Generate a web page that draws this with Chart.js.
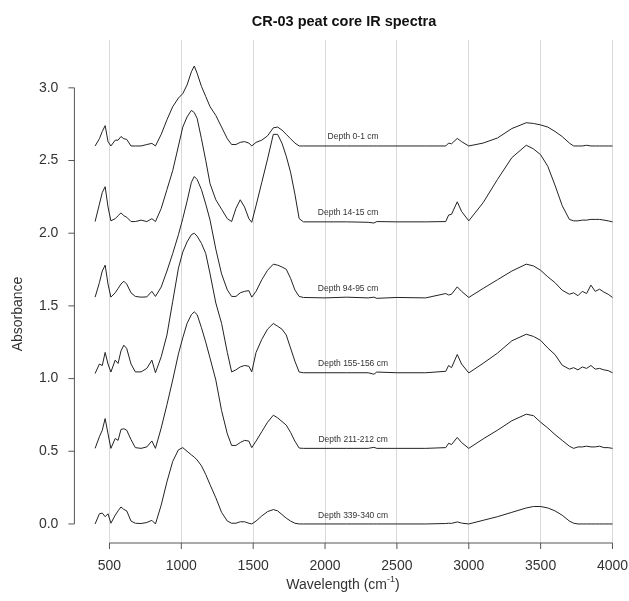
<!DOCTYPE html>
<html>
<head>
<meta charset="utf-8">
<script src="https://cdn.jsdelivr.net/npm/chart.js@4.4.1/dist/chart.umd.min.js"></script>
<style>
html,body{margin:0;padding:0;background:#fff}
#wrap{width:629px;height:601px}
</style>
</head>
<body>
<div id="wrap"><canvas id="irChart" width="629" height="601"></canvas></div>
<script>
// wavenumber grid (cm-1), shared by all spectra
const wavenumbers = [400,430,450,470,490,510,540,560,580,600,620,650,680,720,760,795,820,860,900,940,980,1010,1040,1070,1090,1110,1140,1170,1200,1240,1280,1320,1350,1380,1410,1440,1470,1490,1520,1560,1600,1640,1670,1700,1730,1760,1790,1820,1850,2000,2150,2300,2340,2360,2500,2700,2840,2860,2880,2920,2950,3000,3100,3200,3300,3400,3450,3500,3550,3600,3650,3700,3730,3760,3790,3820,3850,3880,3910,3940,3970,4000];

// absorbance (stacked as plotted)
const depth0_1 = [2.60,2.65,2.70,2.74,2.63,2.60,2.64,2.64,2.665,2.65,2.645,2.60,2.60,2.60,2.61,2.618,2.60,2.68,2.78,2.87,2.93,2.96,3.02,3.11,3.15,3.10,3.01,2.94,2.87,2.81,2.73,2.65,2.61,2.61,2.625,2.63,2.62,2.60,2.625,2.64,2.67,2.725,2.73,2.71,2.68,2.65,2.62,2.60,2.60,2.60,2.60,2.60,2.60,2.60,2.60,2.60,2.60,2.62,2.615,2.652,2.63,2.60,2.62,2.655,2.72,2.76,2.755,2.745,2.73,2.70,2.665,2.62,2.60,2.60,2.60,2.605,2.60,2.60,2.60,2.60,2.60,2.60];
const depth14_15 = [2.08,2.20,2.28,2.32,2.18,2.085,2.10,2.12,2.14,2.12,2.11,2.08,2.08,2.09,2.08,2.10,2.08,2.17,2.30,2.43,2.60,2.73,2.80,2.845,2.83,2.79,2.65,2.50,2.34,2.23,2.165,2.10,2.08,2.17,2.23,2.18,2.10,2.075,2.19,2.35,2.51,2.68,2.68,2.62,2.53,2.42,2.27,2.10,2.078,2.078,2.078,2.075,2.07,2.08,2.078,2.078,2.08,2.125,2.13,2.216,2.15,2.085,2.21,2.37,2.52,2.605,2.58,2.54,2.46,2.33,2.19,2.095,2.085,2.085,2.09,2.09,2.095,2.095,2.095,2.09,2.085,2.078];
const depth94_95 = [1.56,1.66,1.74,1.78,1.65,1.56,1.59,1.62,1.65,1.67,1.65,1.59,1.565,1.56,1.562,1.60,1.565,1.63,1.74,1.86,1.99,2.10,2.22,2.35,2.39,2.37,2.30,2.20,2.09,1.89,1.72,1.61,1.565,1.565,1.59,1.60,1.605,1.56,1.60,1.68,1.745,1.787,1.78,1.768,1.752,1.69,1.61,1.565,1.558,1.555,1.56,1.555,1.56,1.552,1.558,1.555,1.585,1.575,1.58,1.631,1.60,1.558,1.62,1.68,1.74,1.787,1.775,1.745,1.70,1.66,1.608,1.58,1.59,1.57,1.60,1.585,1.643,1.60,1.615,1.595,1.58,1.558];
const depth155_156 = [1.035,1.10,1.09,1.18,1.10,1.045,1.127,1.104,1.19,1.23,1.207,1.10,1.046,1.046,1.07,1.127,1.04,1.15,1.30,1.53,1.76,1.87,1.94,1.99,2.00,1.98,1.93,1.86,1.72,1.52,1.38,1.18,1.046,1.06,1.08,1.09,1.085,1.046,1.18,1.27,1.34,1.379,1.36,1.34,1.30,1.21,1.12,1.045,1.04,1.04,1.04,1.04,1.03,1.045,1.04,1.04,1.05,1.09,1.075,1.166,1.10,1.039,1.105,1.175,1.26,1.305,1.29,1.263,1.21,1.165,1.092,1.065,1.075,1.06,1.08,1.07,1.09,1.065,1.07,1.06,1.055,1.04];
const depth211_212 = [0.52,0.60,0.645,0.725,0.62,0.52,0.588,0.575,0.65,0.655,0.645,0.58,0.525,0.52,0.53,0.571,0.52,0.66,0.82,0.99,1.17,1.28,1.38,1.44,1.459,1.44,1.35,1.25,1.14,0.99,0.78,0.62,0.54,0.54,0.56,0.575,0.57,0.525,0.57,0.635,0.70,0.748,0.73,0.705,0.68,0.63,0.57,0.522,0.52,0.52,0.52,0.52,0.527,0.52,0.52,0.52,0.525,0.555,0.546,0.595,0.56,0.52,0.585,0.645,0.71,0.755,0.745,0.70,0.66,0.615,0.575,0.535,0.52,0.53,0.53,0.535,0.53,0.53,0.535,0.525,0.525,0.52];
const depth339_340 = [0.0,0.07,0.075,0.05,0.07,0.005,0.06,0.09,0.117,0.10,0.09,0.02,0.005,0.003,0.01,0.025,0.0,0.13,0.29,0.43,0.51,0.525,0.50,0.475,0.46,0.44,0.40,0.34,0.27,0.18,0.08,0.02,0.005,0.005,0.015,0.015,0.005,0.0,0.02,0.055,0.085,0.099,0.09,0.065,0.04,0.02,0.005,0.0,0.0,0.0,0.0,0.0,0.0,0.0,0.0,0.0,0.003,0.005,0.004,0.014,0.006,0.0,0.025,0.05,0.08,0.11,0.12,0.12,0.11,0.09,0.06,0.02,0.005,0.0,0.0,0.0,0.0,0.0,0.0,0.0,0.0,0.0];

const spectra = [depth0_1, depth14_15, depth94_95, depth155_156, depth211_212, depth339_340];
const spectraNames = ["Depth 0-1 cm","Depth 14-15 cm","Depth 94-95 cm","Depth 155-156 cm","Depth 211-212 cm","Depth 339-340 cm"];
const labelWn = [2195,2160,2160,2195,2195,2195];
const labelAbs = [2.663,2.14,1.62,1.104,0.583,0.06];

const xTicks = [500,1000,1500,2000,2500,3000,3500,4000];
const yTicks = [0,0.5,1,1.5,2,2.5,3];

const FONT = '"Liberation Sans", Arial, sans-serif';

const axesPlugin = {
  id: "rAxes",
  afterDraw(chart){
    const ctx = chart.ctx, xs = chart.scales.x, ys = chart.scales.y, a = chart.chartArea;
    ctx.save();
    ctx.strokeStyle = "#555";
    ctx.lineWidth = 1;
    ctx.beginPath();
    // y axis
    ctx.moveTo(a.left, ys.getPixelForValue(yTicks[0]));
    ctx.lineTo(a.left, ys.getPixelForValue(yTicks[yTicks.length-1]));
    yTicks.forEach(v=>{
      const p = ys.getPixelForValue(v);
      ctx.moveTo(a.left, p); ctx.lineTo(a.left-6, p);
    });
    // x axis
    ctx.moveTo(xs.getPixelForValue(xTicks[0]), a.bottom);
    ctx.lineTo(xs.getPixelForValue(xTicks[xTicks.length-1]), a.bottom);
    xTicks.forEach(v=>{
      const p = xs.getPixelForValue(v);
      ctx.moveTo(p, a.bottom); ctx.lineTo(p, a.bottom+6);
    });
    ctx.stroke();

    ctx.fillStyle = "#333";
    ctx.font = "14px " + FONT;
    ctx.textAlign = "right"; ctx.textBaseline = "middle";
    yTicks.forEach(v=> ctx.fillText(v.toFixed(1), a.left-16, ys.getPixelForValue(v)));
    ctx.textAlign = "center";
    xTicks.forEach(v=> ctx.fillText(String(v), xs.getPixelForValue(v), a.bottom+23));

    // axis titles
    const main = "Wavelength (cm", sup = "-1", tail = ")";
    ctx.font = "14px " + FONT;
    const w1 = ctx.measureText(main).width, w3 = ctx.measureText(tail).width;
    ctx.font = "9px " + FONT;
    const w2 = ctx.measureText(sup).width;
    let x0 = 343 - (w1+w2+w3)/2;
    ctx.textAlign = "left";
    ctx.font = "14px " + FONT;
    ctx.fillText(main, x0, a.bottom+42);
    ctx.font = "9px " + FONT;
    ctx.fillText(sup, x0+w1, a.bottom+37);
    ctx.font = "14px " + FONT;
    ctx.fillText(tail, x0+w1+w2, a.bottom+42);

    ctx.save();
    ctx.translate(18, 314);
    ctx.rotate(-Math.PI/2);
    ctx.textAlign = "center";
    ctx.fillText("Absorbance", 0, 0);
    ctx.restore();

    // title
    ctx.font = "bold 14.5px " + FONT;
    ctx.fillStyle = "#111";
    ctx.textAlign = "center";
    ctx.fillText("CR-03 peat core IR spectra", 344, 22);

    // depth labels
    ctx.font = "8.5px " + FONT;
    ctx.fillStyle = "#333";
    spectraNames.forEach((n,i)=>{
      ctx.fillText(n, xs.getPixelForValue(labelWn[i]), ys.getPixelForValue(labelAbs[i]));
    });
    ctx.restore();
  }
};

new Chart(document.getElementById("irChart"), {
  type: "line",
  data: {
    datasets: spectra.map((s,i)=>({
      label: spectraNames[i],
      data: s.map((v,k)=>({x: wavenumbers[k], y: v})),
      borderColor: "#222",
      borderWidth: 1,
      pointRadius: 0,
      tension: 0,
      fill: false
    }))
  },
  options: {
    responsive: false,
    animation: false,
    layout: {padding: {top: 40, left: 0, right: 0, bottom: 0}},
    plugins: {legend: {display: false}, tooltip: {enabled: false}, title: {display: false}},
    scales: {
      x: {
        type: "linear", min: 256, max: 4115,
        afterBuildTicks: s => { s.ticks = xTicks.map(v=>({value: v})); },
        grid: {color: "#d9d9d9", lineWidth: 1, drawTicks: false},
        border: {display: false},
        ticks: {display: false},
        afterFit: s => { s.height = 58; }
      },
      y: {
        type: "linear", min: -0.131, max: 3.329,
        grid: {display: false},
        border: {display: false},
        ticks: {display: false},
        afterFit: s => { s.width = 74.4; }
      }
    }
  },
  plugins: [axesPlugin]
});
</script>
</body>
</html>
